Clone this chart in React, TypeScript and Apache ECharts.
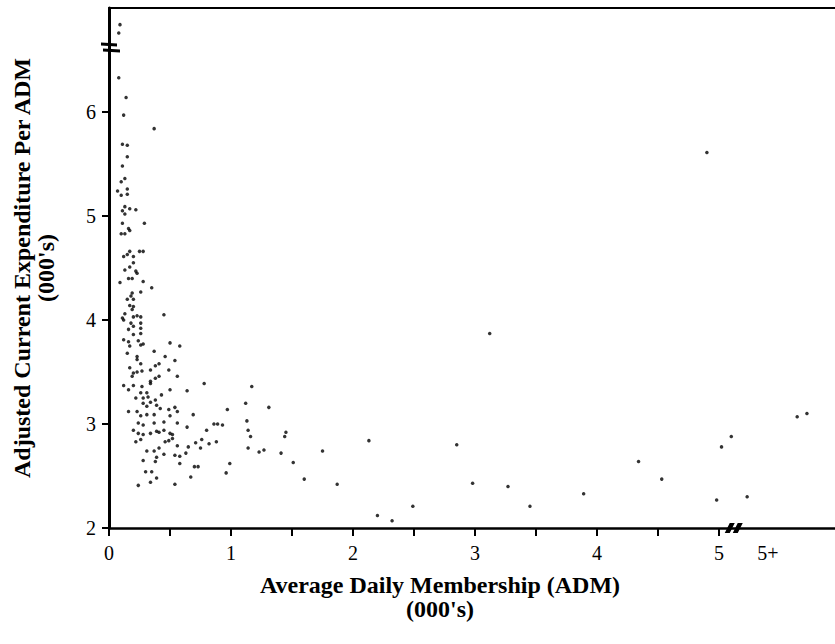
import { useEffect, useRef } from "react";
import * as echarts from "echarts";

// [ADM (000's), adjusted current expenditure per ADM (000's)]
const smallDistrictsHigh: [number, number][] = [
  [0.09, 6.84], [0.08, 6.76], [0.08, 6.33], [0.14, 6.14], [0.12, 5.97], [0.37, 5.84],
  [0.11, 5.69], [0.15, 5.68], [0.15, 5.57], [0.11, 5.48], [0.13, 5.36], [0.10, 5.33],
  [0.15, 5.26], [0.07, 5.24], [0.10, 5.20], [0.15, 5.21], [0.13, 5.09], [0.17, 5.07],
  [0.22, 5.06], [0.11, 5.05], [0.13, 5.02], [0.11, 4.93], [0.29, 4.93], [0.16, 4.88],
  [0.17, 4.86], [0.13, 4.83], [0.10, 4.83], [0.17, 4.66], [0.25, 4.66], [0.28, 4.66],
  [0.15, 4.63], [0.12, 4.61], [0.20, 4.61], [0.20, 4.55], [0.17, 4.51], [0.13, 4.48],
  [0.22, 4.47], [0.23, 4.45], [0.16, 4.40], [0.19, 4.40], [0.09, 4.36], [0.28, 4.37],
  [0.35, 4.31], [0.26, 4.27], [0.19, 4.26], [0.18, 4.23], [0.15, 4.20], [0.20, 4.20],
  [0.17, 4.14], [0.20, 4.13], [0.19, 4.10], [0.13, 4.06], [0.20, 4.03], [0.23, 4.04],
  [0.26, 4.03], [0.45, 4.05], [0.11, 4.02],
];

const smallDistrictsMid: [number, number][] = [
  [0.12, 4.00], [0.18, 3.97], [0.26, 3.97], [0.20, 3.94], [0.16, 3.91], [0.26, 3.92],
  [0.20, 3.86], [0.26, 3.87], [0.12, 3.81], [0.16, 3.79], [0.24, 3.80], [0.28, 3.77],
  [0.17, 3.75], [0.26, 3.76], [0.50, 3.78], [0.58, 3.75], [0.15, 3.68], [0.37, 3.70],
  [0.23, 3.65], [0.46, 3.65], [0.54, 3.61], [0.23, 3.62], [0.26, 3.58], [0.41, 3.58],
  [0.17, 3.54], [0.38, 3.56], [0.49, 3.52], [0.27, 3.51], [0.20, 3.49], [0.23, 3.50],
  [0.34, 3.52], [0.19, 3.46], [0.41, 3.46], [0.34, 3.41], [0.56, 3.46], [0.38, 3.44],
  [0.78, 3.39], [0.12, 3.37], [0.20, 3.37], [0.16, 3.33], [0.27, 3.36], [0.34, 3.39],
  [0.50, 3.33], [0.64, 3.32], [0.26, 3.30], [0.31, 3.30], [0.43, 3.28], [0.22, 3.25],
  [0.28, 3.25], [0.32, 3.26], [0.28, 3.20], [0.34, 3.21], [0.38, 3.23], [0.31, 3.17],
  [0.39, 3.18], [0.42, 3.15], [0.54, 3.16], [0.49, 3.14], [0.16, 3.12], [0.23, 3.12],
  [0.26, 3.08], [0.31, 3.09], [0.37, 3.09], [0.69, 3.09], [0.50, 3.08], [0.97, 3.14],
  [0.56, 3.12], [0.24, 3.01], [0.28, 2.99], [0.37, 3.01], [0.45, 3.02], [0.56, 3.01],
  [0.64, 2.97], [0.86, 3.00], [0.89, 3.00], [0.93, 2.99],
];

const smallDistrictsLow: [number, number][] = [
  [0.20, 2.94], [0.24, 2.91], [0.28, 2.90], [0.34, 2.91], [0.39, 2.93], [0.41, 2.92],
  [0.45, 2.94], [0.50, 2.91], [0.52, 2.90], [0.80, 2.94], [0.22, 2.83], [0.26, 2.85],
  [0.46, 2.83], [0.49, 2.84], [0.52, 2.86], [0.71, 2.82], [0.76, 2.85], [0.82, 2.81],
  [0.88, 2.83], [0.56, 2.79], [0.65, 2.78], [0.75, 2.77], [0.31, 2.74], [0.37, 2.74],
  [0.41, 2.77], [0.45, 2.71], [0.54, 2.70], [0.58, 2.69], [0.63, 2.72], [0.39, 2.68],
  [0.28, 2.65], [0.38, 2.64], [0.58, 2.62], [0.70, 2.59], [0.73, 2.59], [0.99, 2.62],
  [0.30, 2.54], [0.35, 2.54], [0.96, 2.53], [0.39, 2.48], [0.67, 2.49], [0.24, 2.41],
  [0.34, 2.44], [0.54, 2.42],
];

const largerDistricts: [number, number][] = [
  [1.17, 3.36], [1.12, 3.20], [1.31, 3.16], [1.13, 3.03], [1.14, 2.94], [1.16, 2.88],
  [1.45, 2.92], [1.44, 2.88], [1.14, 2.77], [1.27, 2.75], [1.23, 2.73], [1.41, 2.72],
  [1.75, 2.74], [1.51, 2.63], [1.60, 2.47], [1.87, 2.42], [2.13, 2.84], [2.20, 2.12],
  [2.32, 2.07], [2.49, 2.21], [2.85, 2.80], [2.98, 2.43], [3.12, 3.87], [3.27, 2.40],
  [3.45, 2.21], [3.89, 2.33], [4.34, 2.64], [4.53, 2.47], [4.90, 5.61], [4.98, 2.27],
  [5.02, 2.78], [5.10, 2.88], [5.23, 2.30], [5.64, 3.07], [5.72, 3.10],
];

const xTickValues = [0, 0.5, 1, 1.5, 2, 2.5, 3, 3.5, 4, 4.5, 5];
const xLabelValues = [0, 1, 2, 3, 4, 5, 5.4];
const xLabelTexts = ["0", "1", "2", "3", "4", "5", "5+"];
const yTickValues = [2, 3, 4, 5, 6];
const xBreakAt = 5.12;
const yBreakAt = 6.62;

const FONT = "'Liberation Serif', 'DejaVu Serif', serif";

export default function App() {
  const ref = useRef<HTMLDivElement>(null);

  useEffect(() => {
    document.body.style.margin = "0";
    const chart = echarts.init(ref.current!, null, { renderer: "svg" });
    const points = [
      ...smallDistrictsHigh,
      ...smallDistrictsMid,
      ...smallDistrictsLow,
      ...largerDistricts,
    ];
    chart.setOption({
      animation: false,
      backgroundColor: "#ffffff",
      grid: { left: 109, top: 8, right: 0, bottom: 116 },
      xAxis: [
        {
          type: "value",
          min: 0,
          max: 5.95,
          position: "bottom",
          axisLine: { show: true, onZero: false, lineStyle: { color: "#000", width: 2.5 } },
          axisTick: {
            show: true,
            customValues: xTickValues,
            length: 8,
            lineStyle: { color: "#000", width: 2 },
          },
          axisLabel: {
            customValues: xLabelValues,
            formatter: (v: number) => {
              const i = xLabelValues.findIndex((x) => Math.abs(x - v) < 1e-6);
              return i >= 0 ? xLabelTexts[i] : "";
            },
            margin: 15,
            fontSize: 20,
            color: "#000",
            fontFamily: FONT,
          },
          splitLine: { show: false },
          name: "Average Daily Membership (ADM)\n(000's)",
          nameLocation: "middle",
          nameGap: 45,
          nameTextStyle: {
            fontFamily: FONT,
            fontSize: 24,
            fontWeight: "bold",
            color: "#000",
            lineHeight: 24,
            padding: [0, 64, 0, 0],
          },
        },
        {
          type: "value",
          min: 0,
          max: 5.95,
          position: "top",
          axisLine: { show: true, onZero: false, lineStyle: { color: "#000", width: 2 } },
          axisTick: { show: false },
          axisLabel: { show: false },
          splitLine: { show: false },
        },
      ],
      yAxis: {
        type: "value",
        min: 2,
        max: 7,
        axisLine: { show: true, onZero: false, lineStyle: { color: "#000", width: 3 } },
        axisTick: {
          show: true,
          customValues: yTickValues,
          length: 7,
          lineStyle: { color: "#000", width: 2 },
        },
        axisLabel: {
          customValues: yTickValues,
          margin: 13,
          fontSize: 20,
          color: "#000",
          fontFamily: FONT,
        },
        splitLine: { show: false },
        name: "Adjusted Current Expenditure Per ADM\n(000's)",
        nameLocation: "middle",
        nameRotate: 90,
        nameGap: 51,
        nameTextStyle: {
          fontFamily: FONT,
          fontSize: 24,
          fontWeight: "bold",
          color: "#000",
          lineHeight: 24,
        },
      },
      series: [
        {
          type: "scatter",
          xAxisIndex: 0,
          yAxisIndex: 0,
          data: points,
          symbol: "circle",
          symbolSize: 3.5,
          itemStyle: { color: "#000" },
        },
      ],
    });

    const [bx, by] = chart.convertToPixel({ seriesIndex: 0 }, [xBreakAt, 2]) as number[];
    const [ax, ay] = chart.convertToPixel({ seriesIndex: 0 }, [0, yBreakAt]) as number[];
    chart.setOption({
      graphic: [
        {
          type: "polygon",
          shape: { points: [[bx - 9, by + 5], [bx - 4, by + 5], [bx + 1, by - 5], [bx - 4, by - 5]] },
          style: { fill: "#000" },
        },
        {
          type: "polygon",
          shape: { points: [[bx - 1, by + 5], [bx + 4, by + 5], [bx + 9, by - 5], [bx + 4, by - 5]] },
          style: { fill: "#000" },
        },
        {
          type: "polygon",
          shape: { points: [[ax - 8, ay - 5], [ax + 8, ay - 4], [ax + 8, ay - 1], [ax - 8, ay - 2]] },
          style: { fill: "#000" },
        },
        {
          type: "polygon",
          shape: { points: [[ax - 6, ay + 1], [ax + 11, ay + 2], [ax + 11, ay + 5], [ax - 6, ay + 4]] },
          style: { fill: "#000" },
        },
      ],
    });

    return () => chart.dispose();
  }, []);

  return <div ref={ref} style={{ width: 835, height: 644 }} />;
}
